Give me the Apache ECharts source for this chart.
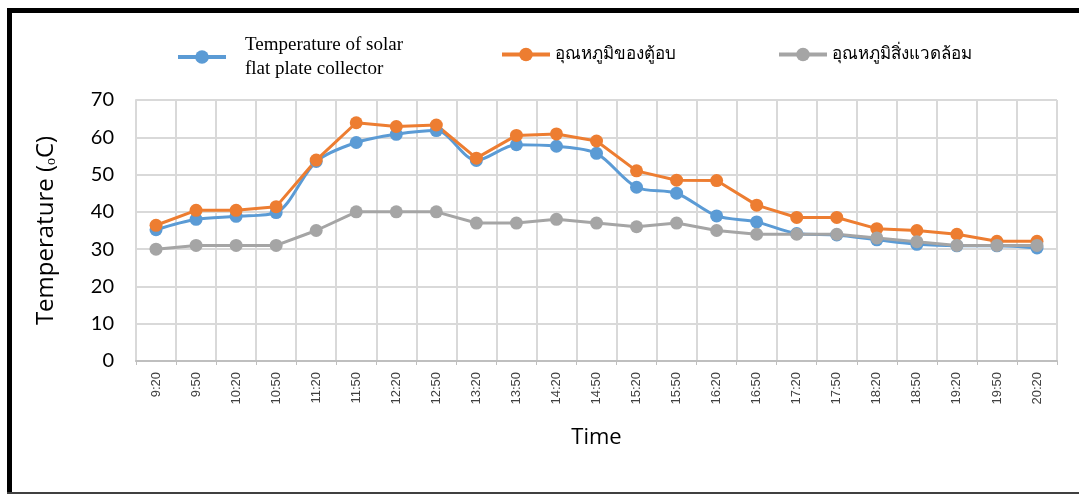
<!DOCTYPE html>
<html>
<head>
<meta charset="utf-8">
<script src="https://cdn.jsdelivr.net/npm/echarts@6/dist/echarts.min.js"></script>
<style>
  html, body { margin: 0; padding: 0; background: #fff; }
  #chart { width: 1079px; height: 494px; }
</style>
</head>
<body>
<div id="chart"></div>
<script>
// Time of each reading
const times = ['9:20', '9:50', '10:20', '10:50', '11:20', '11:50', '12:20', '12:50',
  '13:20', '13:50', '14:20', '14:50', '15:20', '15:50', '16:20', '16:50',
  '17:20', '17:50', '18:20', '18:50', '19:20', '19:50', '20:20'];

// Series names
const nameCollector = 'Temperature of solar\nflat plate collector';
const nameCabinet = 'อุณหภูมิของตู้อบ';
const nameAmbient = 'อุณหภูมิสิ่งแวดล้อม';

// Temperatures (°C)
const collectorTemp = [35.2, 38, 38.8, 39.8, 53.5, 58.6, 60.8, 61.8, 53.8, 58, 57.6, 55.7,
  46.6, 45, 38.9, 37.3, 34.2, 33.8, 32.5, 31.3, 30.9, 30.9, 30.3];
const cabinetTemp = [36.4, 40.4, 40.4, 41.4, 53.9, 63.9, 62.9, 63.3, 54.4, 60.5, 60.9, 59,
  51, 48.5, 48.4, 41.8, 38.5, 38.5, 35.5, 35, 34, 32.1, 32.1];
const ambientTemp = [30, 31, 31, 31, 35, 40, 40, 40, 37, 37, 38, 37,
  36, 37, 35, 34, 34, 34, 33, 32, 31, 31, 31];

const chart = echarts.init(document.getElementById('chart'), null, { renderer: 'canvas' });

function lineSeries(name, data, color, smooth) {
  return {
    name: name,
    type: 'line',
    data: data,
    smooth: smooth,
    symbol: 'circle',
    symbolSize: 13,
    showSymbol: true,
    lineStyle: { color: color, width: 3 },
    itemStyle: { color: color },
    emphasis: { disabled: true },
    animation: false
  };
}

const legendBase = {
  orient: 'horizontal',
  itemWidth: 48,
  itemHeight: 17,
  selectedMode: false,
  lineStyle: { width: 4 },
  textStyle: { color: '#000' }
};

chart.setOption({
  backgroundColor: '#fff',
  animation: false,
  graphic: [
    // frame around the figure
    { type: 'rect', shape: { x: 7, y: 8, width: 1072, height: 5 }, style: { fill: '#000' }, z: 100 },
    { type: 'rect', shape: { x: 7, y: 8, width: 5, height: 486 }, style: { fill: '#000' }, z: 100 },
    { type: 'rect', shape: { x: 7, y: 492, width: 1072, height: 2 }, style: { fill: '#404040' }, z: 100 }
  ],
  legend: [
    Object.assign({}, legendBase, {
      data: [nameCollector], left: 171, top: 28,
      textStyle: { color: '#000', fontFamily: 'Liberation Serif', fontSize: 19, lineHeight: 24, padding: [0, 0, 0, 14] }
    }),
    Object.assign({}, legendBase, {
      data: [nameCabinet], left: 495, top: 41,
      textStyle: { color: '#000', fontFamily: 'Liberation Serif', fontSize: 17 }
    }),
    Object.assign({}, legendBase, {
      data: [nameAmbient], left: 772, top: 41,
      textStyle: { color: '#000', fontFamily: 'Liberation Serif', fontSize: 17 }
    })
  ],
  grid: { left: 136, right: 22, top: 100, bottom: 133, containLabel: false },
  xAxis: {
    type: 'category',
    data: times,
    boundaryGap: true,
    name: 'Time',
    nameLocation: 'middle',
    nameGap: 66,
    nameTextStyle: { fontFamily: 'Open Sans', fontSize: 22, color: '#000' },
    axisLine: { show: true, lineStyle: { color: '#BFBFBF', width: 2 } },
    axisTick: { show: true, length: 4, lineStyle: { color: '#BFBFBF' } },
    axisLabel: { rotate: 90, interval: 0, margin: 11, fontFamily: 'Liberation Sans', fontSize: 13, color: '#404040' },
    splitLine: { show: true, interval: 0, lineStyle: { color: '#D9D9D9', width: 2 } }
  },
  yAxis: {
    type: 'value',
    min: 0,
    max: 70,
    interval: 10,
    name: 'Temperature (\u2092C)',
    nameLocation: 'middle',
    nameGap: 78,
    nameRotate: 90,
    nameTextStyle: { fontFamily: 'Open Sans', fontSize: 24, color: '#000' },
    axisLine: { show: true, lineStyle: { color: '#D9D9D9', width: 2 } },
    axisTick: { show: false },
    axisLabel: { margin: 22, fontFamily: 'Lato', fontSize: 20, color: '#000' },
    splitLine: { show: true, lineStyle: { color: '#D9D9D9', width: 2 } }
  },
  series: [
    lineSeries(nameCollector, collectorTemp, '#5B9BD5', 0.3),
    lineSeries(nameCabinet, cabinetTemp, '#ED7D31', false),
    lineSeries(nameAmbient, ambientTemp, '#A5A5A5', false)
  ]
});
</script>
</body>
</html>
